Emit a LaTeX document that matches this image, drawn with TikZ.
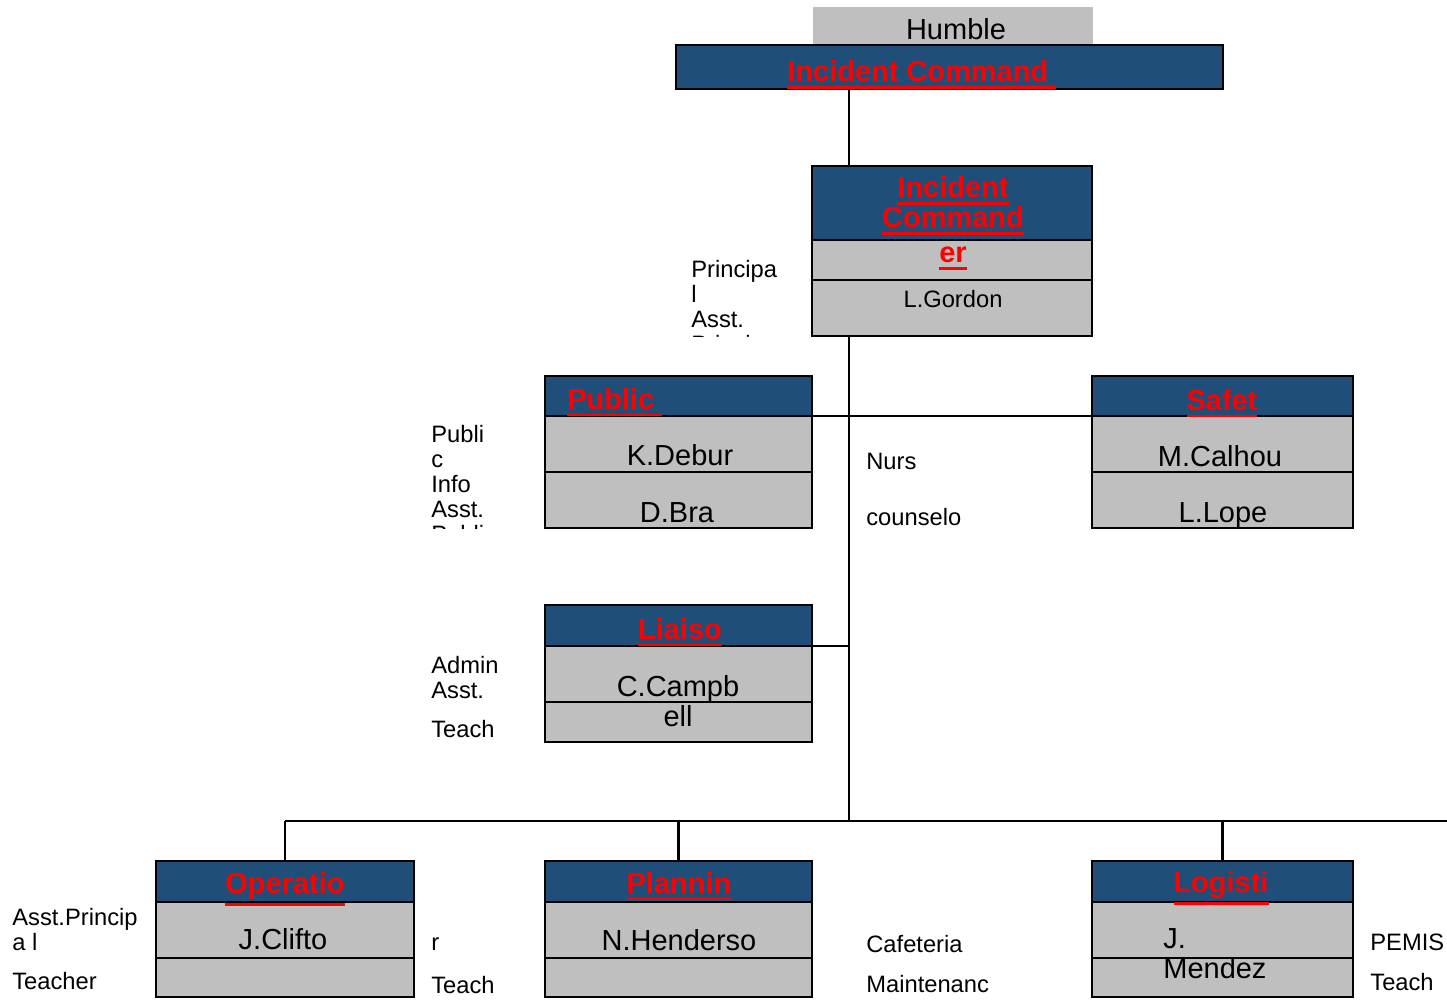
\documentclass[tikz,border=0pt]{standalone}
\usepackage{fontspec}
\setmainfont{Liberation Sans}
\usepackage{tikz}
\usetikzlibrary{positioning}

\definecolor{headblue}{RGB}{31,78,121}
\definecolor{cellgray}{RGB}{191,191,191}
\definecolor{titlered}{RGB}{255,0,0}

% thick underline for the red titles
\newcommand{\redline}[1]{\leavevmode\vtop{\hbox{#1}\kern2.4pt\hrule height1.7pt}}

\begin{document}
\begin{tikzpicture}[
        x=0.02cm, y=-0.02cm,
        head/.style={rectangle, draw=black, line width=1.6pt, fill=headblue, outer sep=0pt, inner sep=0pt, anchor=north west},
        cell/.style={rectangle, draw=black, line width=1.6pt, fill=cellgray, outer sep=0pt, inner sep=0pt},
        ttl/.style={font=\fontsize{16.5}{17}\selectfont\bfseries, text=titlered, inner sep=0pt, anchor=base},
        who/.style={font=\fontsize{16.5}{17}\selectfont, align=center, inner sep=0pt, anchor=base},
        note/.style={font=\fontsize{13.5}{14.2}\selectfont, align=left, inner sep=0pt, anchor=base west},
        link/.style={line width=1.5pt}
    ]
        \useasboundingbox (0,0) rectangle (1447,1000);

        % Top band
        \node[rectangle, fill=cellgray, inner sep=0pt, anchor=north west, minimum width=5.6cm, minimum height=0.78cm] (hum) at (813,7) {};
        \node[head, minimum width=10.94cm, minimum height=0.88cm] (band) at (676,45) {};
        \node[who] (humT) at (956,40) {Humble};
        \node[ttl, anchor=base west] (bandT) at (787,82) {\redline{Incident Command\ }};

        % Commander
        \node[head, minimum width=5.6cm, minimum height=1.48cm] (cmdH) at (812,166) {};
        \node[cell, minimum width=5.6cm, minimum height=0.8cm, below=0pt of cmdH] (cmdA) {};
        \node[cell, minimum width=5.6cm, minimum height=1.12cm, below=0pt of cmdA] (cmdB) {};
        \node[ttl] (cmdT1) at (953,198) {\redline{Incident}};
        \node[ttl] (cmdT2) at (953,228) {\redline{Command}};
        \node[ttl] (cmdT3) at (953,263) {\redline{er}};
        \node[note, anchor=base] (cmdN) at (953,307) {L.Gordon};
        \begin{scope}
            \clip (600,250) rectangle (810,336);
            \node[note] (cmdS) at (691,352) {Principa\\l\\Asst.\\Principa};
        \end{scope}

        % Public Info
        \node[head, minimum width=5.34cm, minimum height=0.8cm] (pubH) at (545,376) {};
        \node[cell, minimum width=5.34cm, minimum height=1.12cm, below=0pt of pubH] (pubA) {};
        \node[cell, minimum width=5.34cm, minimum height=1.12cm, below=0pt of pubA] (pubB) {};
        \node[ttl, anchor=base west] (pubT) at (567,409) {\redline{Public\ }};
        \node[who] (pubN1) at (680,465) {K.Debur};
        \node[who] (pubN2) at (677,522) {D.Bra};
        \begin{scope}
            \clip (420,420) rectangle (540,528);
            \node[note] (pubS) at (431,542) {Publi\\c\\Info\\Asst.\\Publi};
        \end{scope}

        % Safety
        \node[head, minimum width=5.22cm, minimum height=0.8cm] (safH) at (1092,376) {};
        \node[cell, minimum width=5.22cm, minimum height=1.12cm, below=0pt of safH] (safA) {};
        \node[cell, minimum width=5.22cm, minimum height=1.12cm, below=0pt of safA] (safB) {};
        \node[ttl] (safT) at (1222,410) {\redline{Safet}};
        \node[who] (safN1) at (1220,466) {M.Calhou};
        \node[who] (safN2) at (1223,522) {L.Lope};
        \node[note] (safS1) at (866,469) {Nurs};
        \node[note] (safS2) at (866,525) {counselo};

        % Liaison
        \node[head, minimum width=5.34cm, minimum height=0.82cm] (liaH) at (545,605) {};
        \node[cell, minimum width=5.34cm, minimum height=1.12cm, below=0pt of liaH] (liaA) {};
        \node[cell, minimum width=5.34cm, minimum height=0.8cm, below=0pt of liaA] (liaB) {};
        \node[ttl] (liaT) at (680,639) {\redline{Liaiso}};
        \node[who, anchor=north] (liaN) at (678,675) {C.Campb\\ell};
        \node[note] (liaS1) at (431,698) {Admin\\Asst.};
        \node[note] (liaS2) at (431,737) {Teach};

        % Operations
        \node[head, minimum width=5.16cm, minimum height=0.82cm] (opsH) at (156,861) {};
        \node[cell, minimum width=5.16cm, minimum height=1.12cm, below=0pt of opsH] (opsA) {};
        \node[cell, minimum width=5.16cm, minimum height=0.78cm, below=0pt of opsA] (opsB) {};
        \node[ttl] (opsT) at (285,893) {\redline{Operatio}};
        \node[who] (opsN) at (283,949) {J.Clifto};
        \node[note] (opsS1) at (12,950) {Asst.Princip\\a l};
        \node[note] (opsS2) at (12,989) {Teacher};
        \node[note] (opsS3) at (431,950) {r};
        \node[note] (opsS4) at (431,993) {Teach};

        % Planning
        \node[head, minimum width=5.34cm, minimum height=0.82cm] (plnH) at (545,861) {};
        \node[cell, minimum width=5.34cm, minimum height=1.12cm, below=0pt of plnH] (plnA) {};
        \node[cell, minimum width=5.34cm, minimum height=0.78cm, below=0pt of plnA] (plnB) {};
        \node[ttl] (plnT) at (679,893) {\redline{Plannin}};
        \node[who] (plnN) at (679,950) {N.Henderso};
        \node[note] (plnS1) at (866,952) {Cafeteria};
        \node[note] (plnS2) at (866,992) {Maintenanc};

        % Logistics
        \node[head, minimum width=5.22cm, minimum height=0.82cm] (logH) at (1092,861) {};
        \node[cell, minimum width=5.22cm, minimum height=1.12cm, below=0pt of logH] (logA) {};
        \node[cell, minimum width=5.22cm, minimum height=0.78cm, below=0pt of logA] (logB) {};
        \node[ttl] (logT) at (1221,892) {\redline{Logisti}};
        \node[who, anchor=north west, align=left] (logN) at (1163,928) {J.\\Mendez};
        \node[note] (logS1) at (1370,950) {PEMIS};
        \node[note] (logS2) at (1370,990) {Teach};

        % Connections
        \coordinate (spine) at (849,821);
        \coordinate (edge) at (1447,821);
        \draw[link] (band.south -| spine) -- (cmdH.north -| spine);
        \draw[link] (cmdB.south -| spine) -- (spine);
        \draw[link] (pubH.south east) -- (safH.south west);
        \draw[link] (liaH.south east) -- (liaH.south east -| spine);
        \draw[link] (opsH.north |- spine) -- (edge);
        \draw[link] (opsH.north) -- (opsH.north |- spine);
        \draw[link] (plnH.north) -- (plnH.north |- spine);
        \draw[link] (logH.north) -- (logH.north |- spine);

    \end{tikzpicture}
\end{document}
